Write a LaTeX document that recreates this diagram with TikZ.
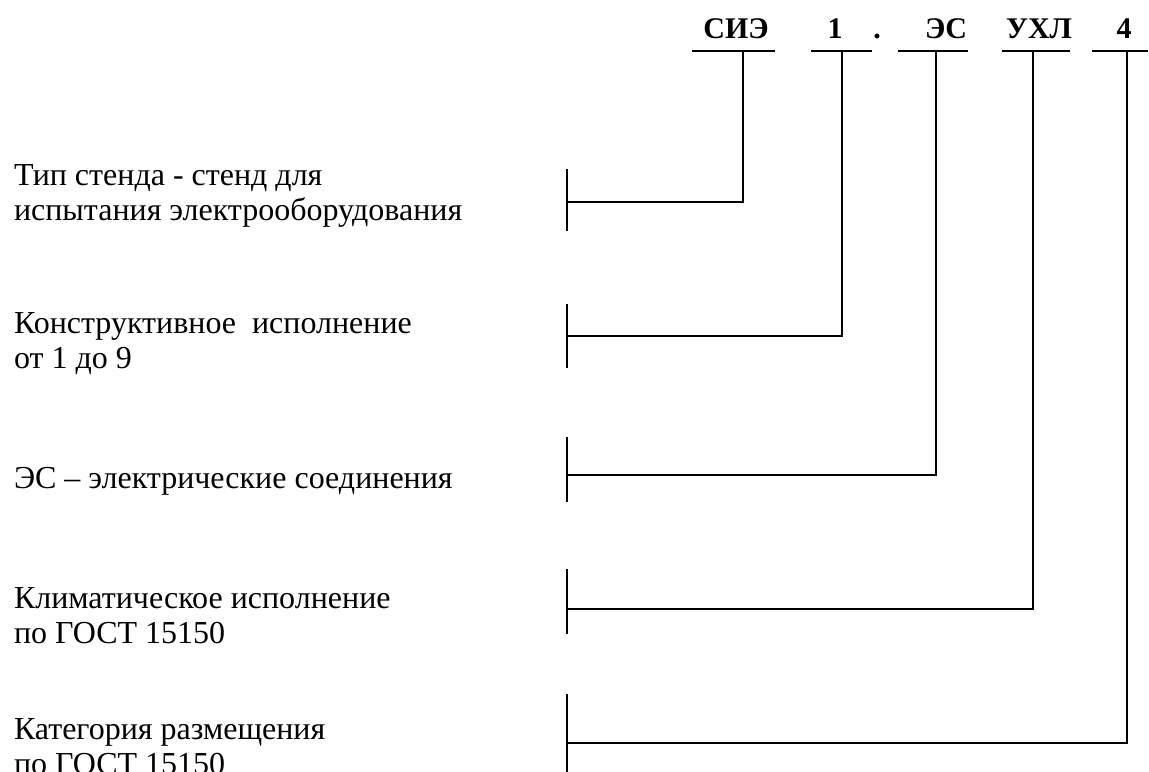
\documentclass[tikz,border=0pt]{standalone}
\usepackage{fontspec}
\setmainfont{Liberation Serif}
\begin{document}
\begin{tikzpicture}[x=0.5pt,y=-0.5pt,line width=1pt,
  lbl/.style={anchor=base west,inner sep=0pt,font=\fontsize{16}{17.5}\selectfont,align=left},
  code/.style={anchor=base,inner sep=0pt,font=\fontsize{15}{18}\selectfont\bfseries},
  bar/.style={line width=1pt},
  conn/.style={line width=1pt}]
\useasboundingbox (0,0) rectangle (1149,771);
% code labels
\node[code] (c1) at (736,38) {СИЭ};
\node[code] (c2) at (835,38) {1};
\node[code] (dot) at (877,38) {.};
\node[code] (c3) at (946,38) {ЭС};
\node[code] (c4) at (1039,38) {УХЛ};
\node[code] (c5) at (1124,38) {4};
% underlines
\draw (692,51) -- (775,51);
\draw (811,51) -- (872,51);
\draw (898,51) -- (968,51);
\draw (1002,51) -- (1070,51);
\draw (1092,51) -- (1148,51);
\coordinate (t1) at (743,51);
\coordinate (t2) at (842,51);
\coordinate (t3) at (936,51);
\coordinate (t4) at (1033,51);
\coordinate (t5) at (1127,51);
% bars
\draw[bar] (567,169) -- (567,231);
\draw[bar] (567,304) -- (567,368);
\draw[bar] (567,437) -- (567,502);
\draw[bar] (567,569) -- (567,634);
\draw[bar] (567,694) -- (567,775);
\coordinate (b1) at (567,202);
\coordinate (b2) at (567,336);
\coordinate (b3) at (567,475);
\coordinate (b4) at (567,609);
\coordinate (b5) at (567,743);
% connectors
\draw[conn] (t1) |- (b1);
\draw[conn] (t2) |- (b2);
\draw[conn] (t3) |- (b3);
\draw[conn] (t4) |- (b4);
\draw[conn] (t5) |- (b5);
% descriptions (base = last line)
\node[lbl] (d1) at (13,220) {Тип стенда - стенд для\\испытания электрооборудования};
\node[lbl] (d2) at (13,368) {Конструктивное\ \ исполнение\\от 1 до 9};
\node[lbl] (d3) at (13,488) {ЭС – электрические соединения};
\node[lbl] (d4) at (13,643) {Климатическое исполнение\\по ГОСТ 15150};
\node[lbl] (d5) at (13,774) {Категория размещения\\по ГОСТ 15150};
\end{tikzpicture}
\end{document}
